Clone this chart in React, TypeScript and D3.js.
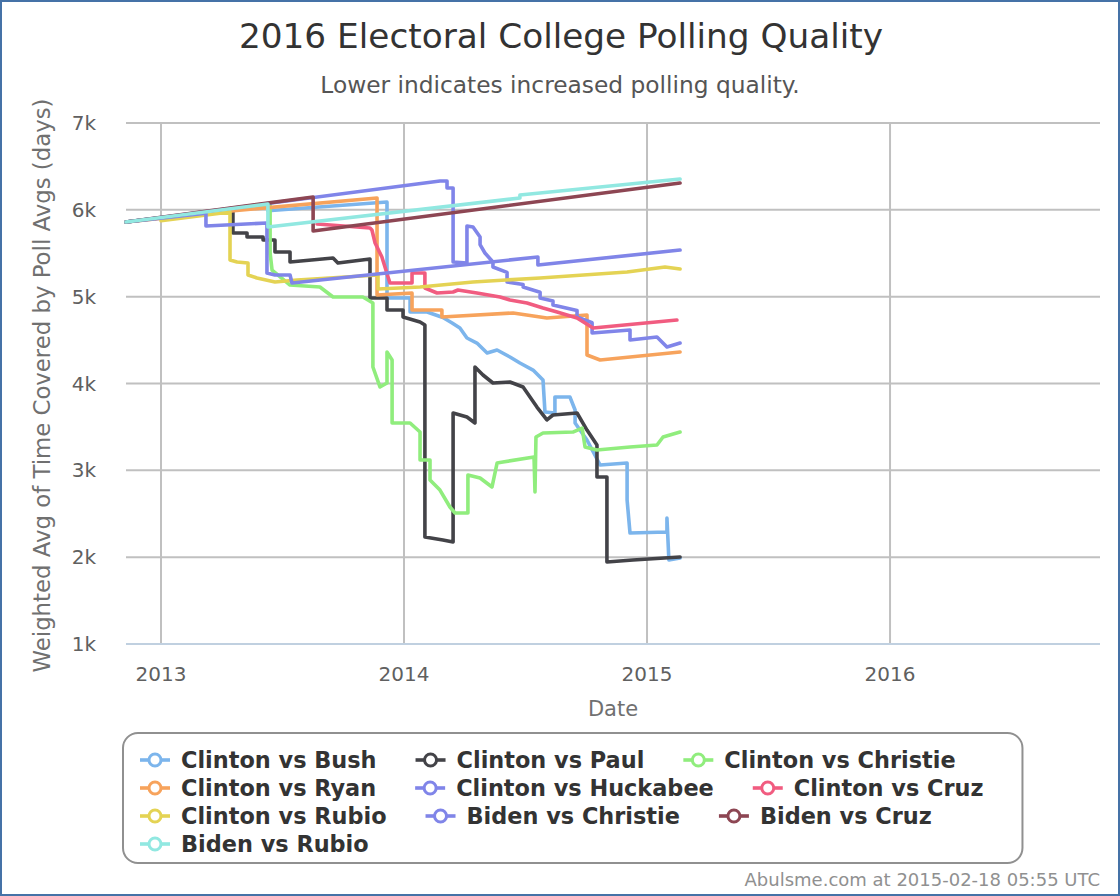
import React, { useMemo } from "react";
import * as d3 from "d3";

// ---------- data (decimal year, weighted avg days) ----------
const seriesNames = [
  "Clinton vs Bush",
  "Clinton vs Paul",
  "Clinton vs Christie",
  "Clinton vs Ryan",
  "Clinton vs Huckabee",
  "Clinton vs Cruz",
  "Clinton vs Rubio",
  "Biden vs Christie",
  "Biden vs Cruz",
  "Biden vs Rubio",
];

const seriesColors = [
  "#7cb5ec", "#434348", "#90ed7d", "#f7a35c", "#8085e9",
  "#f15c80", "#e4d354", "#8085e8", "#8d4653", "#91e8e1",
];

const clintonBush: [number, number][] = [
  [2012.856, 5860], [2013.44, 6067], [2013.44, 5990], [2013.93, 6090], [2013.93, 4985],
  [2014.025, 4985], [2014.025, 4823], [2014.095, 4823], [2014.16, 4760], [2014.198, 4697],
  [2014.23, 4639], [2014.259, 4524], [2014.3, 4466], [2014.342, 4351], [2014.383, 4386],
  [2014.436, 4305], [2014.477, 4236], [2014.531, 4155], [2014.572, 4040], [2014.58, 3672],
  [2014.621, 3660], [2014.621, 3844], [2014.683, 3844], [2014.704, 3695], [2014.704, 3545],
  [2014.753, 3349], [2014.807, 3061], [2014.918, 3084], [2014.918, 2658], [2014.93, 2278],
  [2015.082, 2290], [2015.082, 2451], [2015.09, 1967], [2015.136, 1990],
];

const clintonPaul: [number, number][] = [
  [2012.856, 5860], [2013.296, 6010], [2013.296, 5733], [2013.354, 5733], [2013.354, 5687],
  [2013.42, 5687], [2013.42, 5652], [2013.469, 5652], [2013.469, 5514], [2013.531, 5514],
  [2013.531, 5399], [2013.708, 5445], [2013.728, 5388], [2013.86, 5434], [2013.86, 4985],
  [2013.93, 4985], [2013.93, 4846], [2013.996, 4846], [2013.996, 4766], [2014.066, 4708],
  [2014.086, 4674], [2014.086, 2232], [2014.16, 2198], [2014.202, 2175], [2014.202, 3660],
  [2014.259, 3614], [2014.292, 3545], [2014.292, 4190], [2014.325, 4098], [2014.366, 4006],
  [2014.436, 4017], [2014.49, 3960], [2014.547, 3729], [2014.588, 3580], [2014.613, 3637],
  [2014.712, 3660], [2014.753, 3464], [2014.794, 3292], [2014.794, 2923], [2014.835, 2923],
  [2014.835, 1944], [2014.942, 1967], [2015.136, 2002],
];

const clintonChristie: [number, number][] = [
  [2012.856, 5860], [2013.449, 6060], [2013.449, 5503], [2013.457, 5307], [2013.531, 5134],
  [2013.654, 5111], [2013.708, 4996], [2013.831, 4996], [2013.872, 4927], [2013.872, 4190],
  [2013.901, 3960], [2013.93, 4006], [2013.93, 4363], [2013.951, 4271], [2013.951, 3545],
  [2014.025, 3545], [2014.066, 3441], [2014.066, 3119], [2014.107, 3119], [2014.107, 2889],
  [2014.148, 2773], [2014.189, 2578], [2014.21, 2509], [2014.263, 2509], [2014.263, 2946],
  [2014.313, 2912], [2014.362, 2808], [2014.383, 3084], [2014.407, 3096], [2014.535, 3153],
  [2014.539, 2750], [2014.543, 3384], [2014.572, 3430], [2014.695, 3441], [2014.733, 3487],
  [2014.745, 3269], [2014.794, 3234], [2014.93, 3269], [2015.041, 3292], [2015.066, 3384],
  [2015.136, 3441],
];

const clintonRyan: [number, number][] = [
  [2012.856, 5860], [2013.3, 5990], [2013.889, 6136], [2013.889, 5019], [2014.033, 5042],
  [2014.033, 4846], [2014.156, 4846], [2014.156, 4766], [2014.449, 4812], [2014.588, 4754],
  [2014.753, 4789], [2014.753, 4328], [2014.807, 4271], [2015.136, 4363],
];

const clintonHuckabee: [number, number][] = [
  [2012.856, 5860], [2014.148, 6332], [2014.177, 6332], [2014.177, 6251], [2014.202, 6251],
  [2014.202, 5399], [2014.259, 5388], [2014.259, 5814], [2014.284, 5802], [2014.313, 5687],
  [2014.313, 5600], [2014.333, 5503], [2014.366, 5400], [2014.366, 5342], [2014.424, 5280],
  [2014.424, 5169], [2014.49, 5140], [2014.49, 5111], [2014.56, 5050], [2014.56, 4985],
  [2014.613, 4950], [2014.613, 4904], [2014.712, 4840], [2014.712, 4766], [2014.774, 4700],
  [2014.774, 4581], [2014.93, 4616], [2014.93, 4501], [2015.041, 4535], [2015.082, 4420],
  [2015.136, 4466],
];

const clintonCruz: [number, number][] = [
  [2013.642, 5837], [2013.86, 5791], [2013.868, 5768], [2013.881, 5618], [2013.909, 5457],
  [2013.942, 5157], [2014.033, 5157], [2014.033, 5273], [2014.086, 5273], [2014.086, 5100],
  [2014.136, 5042], [2014.202, 5054], [2014.222, 5077], [2014.3, 5042], [2014.395, 4996],
  [2014.436, 4962], [2014.506, 4927], [2014.572, 4869], [2014.63, 4823], [2014.712, 4754],
  [2014.778, 4639], [2015.123, 4731],
];

const clintonRubio: [number, number][] = [
  [2013.0, 5875], [2013.284, 5975], [2013.284, 5422], [2013.313, 5399], [2013.358, 5388],
  [2013.358, 5249], [2013.395, 5215], [2013.469, 5169], [2013.56, 5192], [2013.893, 5249],
  [2013.893, 5088], [2014.066, 5111], [2014.284, 5169], [2014.56, 5215], [2014.918, 5284],
  [2015.074, 5342], [2015.136, 5319],
];

const bidenChristie: [number, number][] = [
  [2012.856, 5860], [2013.185, 5960], [2013.185, 5814], [2013.436, 5848], [2013.436, 5273],
  [2013.469, 5249], [2013.531, 5249], [2013.539, 5157], [2014.551, 5457], [2014.551, 5365],
  [2015.136, 5537],
];

const bidenCruz: [number, number][] = [
  [2012.856, 5860], [2013.626, 6148], [2013.626, 5756], [2015.136, 6309],
];

const bidenRubio: [number, number][] = [
  [2012.856, 5860], [2013.44, 6067], [2013.44, 5802], [2014.477, 6136], [2014.477, 6171],
  [2015.136, 6355],
];

const seriesData = [
  clintonBush, clintonPaul, clintonChristie, clintonRyan, clintonHuckabee,
  clintonCruz, clintonRubio, bidenChristie, bidenCruz, bidenRubio,
];

const xDomain = [2012.856, 2016.864];
const yDomain = [1000, 7000];
const xTicks = [2013, 2014, 2015, 2016];
const yTicks = [1000, 2000, 3000, 4000, 5000, 6000, 7000];

const titleText = "2016 Electoral College Polling Quality";
const subtitleText = "Lower indicates increased polling quality.";
const yTitleText = "Weighted Avg of Time Covered by Poll Avgs (days)";
const xTitleText = "Date";
const creditText = "Abulsme.com at 2015-02-18 05:55 UTC";

// ---------- layout ----------
const W = 1120;
const H = 896;
const plot = { left: 126, right: 1100, top: 123, bottom: 644 };
const FONT = '"DejaVu Sans", Verdana, sans-serif';
const legendFontSize = 22.4;

function measure(text: string, font: string): number {
  const c = document.createElement("canvas");
  const ctx = c.getContext("2d");
  if (!ctx) return text.length * 12;
  ctx.font = font;
  return ctx.measureText(text).width;
}

export default function App() {
  const x = d3.scaleLinear().domain(xDomain).range([plot.left, plot.right]);
  const y = d3.scaleLinear().domain(yDomain).range([plot.bottom, plot.top]);
  const line = d3
    .line<[number, number]>()
    .x((d) => x(d[0]))
    .y((d) => y(d[1]));

  const legend = useMemo(() => {
    const font = `bold ${legendFontSize}px "DejaVu Sans"`;
    const startX = 140;
    const symW = 41;
    const gap = 39;
    const limit = 1015;
    const rowH = 28;
    const firstBaseline = 768;
    let cx = startX;
    let row = 0;
    let maxEnd = 0;
    const items = seriesNames.map((name, i) => {
      const tw = measure(name, font);
      const w = symW + tw;
      if (cx !== startX && cx + w > limit) {
        row += 1;
        cx = startX;
      }
      const item = { name, color: seriesColors[i], x: cx, baseline: firstBaseline + row * rowH, tw };
      maxEnd = Math.max(maxEnd, cx + w);
      cx += w + gap;
      return item;
    });
    return { items, boxRight: maxEnd + gap, rows: row + 1 };
  }, []);

  return (
    <svg
      width={W}
      height={H}
      style={{ position: "absolute", left: 0, top: 0, background: "#fff" }}
      fontFamily={FONT}
    >
      <rect x={0} y={0} width={W} height={H} fill="#fff" />
      <rect x={1} y={1} width={W - 2} height={H - 2} fill="none" stroke="#4572a7" strokeWidth={2} />

      {/* title */}
      <text x={561} y={48} textAnchor="middle" fontSize={34.3} fill="#333333">
        {titleText}
      </text>
      <text x={560} y={93} textAnchor="middle" fontSize={23.3} fill="#555555">
        {subtitleText}
      </text>

      {/* grid */}
      {yTicks.map((t) => (
        <line
          key={"gy" + t}
          x1={plot.left}
          x2={plot.right}
          y1={y(t)}
          y2={y(t)}
          stroke={t === yDomain[0] ? "#c0d0e0" : "#c0c0c0"}
          strokeWidth={2}
        />
      ))}
      {xTicks.map((t) => (
        <line key={"gx" + t} x1={x(t)} x2={x(t)} y1={plot.top} y2={plot.bottom - 1} stroke="#c0c0c0" strokeWidth={2} />
      ))}

      {/* tick labels */}
      {yTicks.map((t) => (
        <text key={"ly" + t} x={96} y={y(t)} dy="0.35em" textAnchor="end" fontSize={20} fill="#606060">
          {d3.format("d")(t / 1000) + "k"}
        </text>
      ))}
      {xTicks.map((t) => (
        <text key={"lx" + t} x={x(t)} y={681} textAnchor="middle" fontSize={20} fill="#606060">
          {String(t)}
        </text>
      ))}

      {/* axis titles */}
      <text x={(plot.left + plot.right) / 2} y={716} textAnchor="middle" fontSize={21} fill="#707070">
        {xTitleText}
      </text>
      <text
        transform={`translate(50, ${(plot.top + plot.bottom) / 2 + 2}) rotate(-90)`}
        textAnchor="middle"
        fontSize={22.8}
        fill="#707070"
      >
        {yTitleText}
      </text>

      {/* series */}
      <g>
        {seriesData.map((d, i) => (
          <path
            key={"s" + i}
            d={line(d) || ""}
            fill="none"
            stroke={seriesColors[i]}
            strokeWidth={3.6}
            strokeLinejoin="round"
            strokeLinecap="round"
          />
        ))}
      </g>

      {/* legend */}
      <rect
        x={123}
        y={733}
        width={legend.boxRight - 123}
        height={130}
        rx={15}
        ry={15}
        fill="none"
        stroke="#909090"
        strokeWidth={2}
      />
      {legend.items.map((it) => (
        <g key={it.name}>
          <line x1={it.x} x2={it.x + 30} y1={it.baseline - 8} y2={it.baseline - 8} stroke={it.color} strokeWidth={3.6} />
          <circle cx={it.x + 15} cy={it.baseline - 8} r={6} fill="#fff" stroke={it.color} strokeWidth={3} />
          <text x={it.x + 41} y={it.baseline} fontSize={legendFontSize} fontWeight="bold" fill="#333333">
            {it.name}
          </text>
        </g>
      ))}

      {/* credits */}
      <text x={1100} y={886} textAnchor="end" fontSize={18} fill="#909090">
        {creditText}
      </text>
    </svg>
  );
}
